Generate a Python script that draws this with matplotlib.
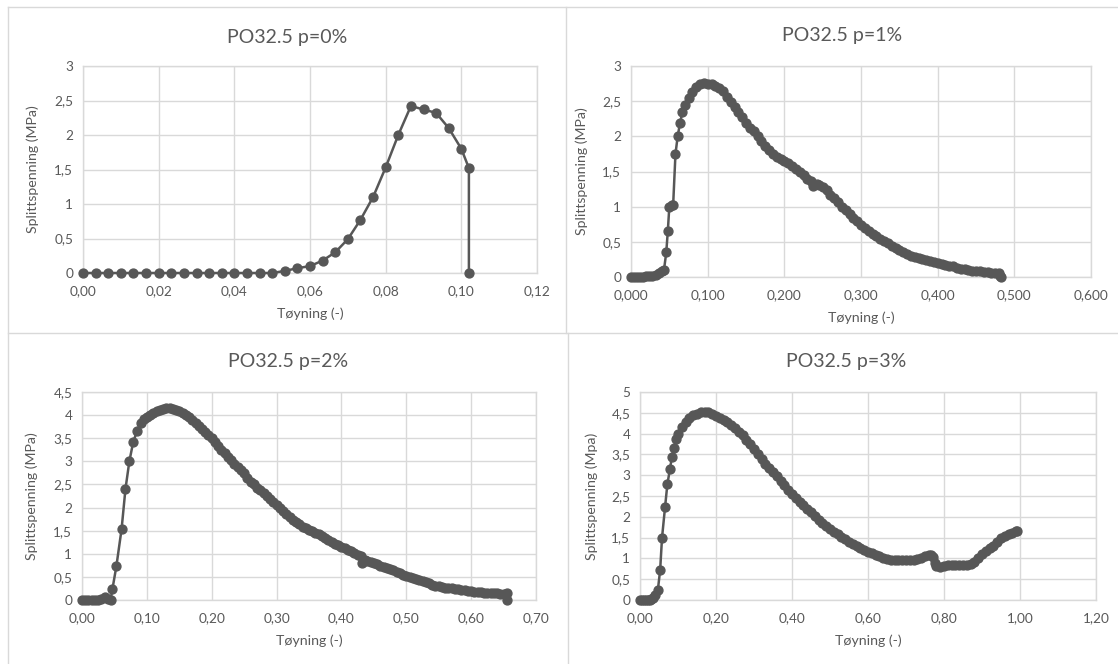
import matplotlib
matplotlib.use("Agg")
import matplotlib.pyplot as plt
from matplotlib.lines import Line2D
from matplotlib.ticker import FuncFormatter, MultipleLocator

plt.rcParams['font.family'] = ['Lato', 'DejaVu Sans']

# p = 0 %
p0_x = [0.0, 0.00333, 0.00667, 0.010, 0.01333, 0.01667, 0.020, 0.02333, 0.02667, 0.030,
        0.03333, 0.03667, 0.040, 0.04333, 0.04667, 0.050, 0.05333, 0.05667, 0.060, 0.06333,
        0.06667, 0.070, 0.07333, 0.07667, 0.080, 0.08333, 0.08667, 0.090, 0.09333, 0.09667,
        0.100, 0.102, 0.102]
p0_y = [0, 0, 0, 0, 0, 0, 0, 0, 0, 0,
        0, 0, 0, 0, 0, 0, 0.03, 0.07, 0.10, 0.18,
        0.30, 0.49, 0.77, 1.10, 1.53, 2.00, 2.42, 2.37, 2.32, 2.10,
        1.80, 1.52, 0]

# p = 1 %
p1_x = [0.000, 0.004, 0.008, 0.012, 0.016, 0.020, 0.024, 0.028, 0.032, 0.036,
        0.040, 0.043, 0.046, 0.048, 0.050, 0.053, 0.055, 0.058, 0.061, 0.064, 0.067,
        0.070, 0.075, 0.080, 0.085, 0.090, 0.095, 0.100, 0.105, 0.110, 0.115,
        0.120, 0.125, 0.130, 0.135, 0.140, 0.145, 0.150, 0.155, 0.160, 0.165,
        0.170, 0.175, 0.180, 0.185, 0.190, 0.195, 0.200, 0.205, 0.210, 0.215,
        0.220, 0.225, 0.230, 0.235, 0.238, 0.242, 0.245, 0.250, 0.255, 0.260,
        0.265, 0.270, 0.275, 0.280, 0.285, 0.290, 0.295, 0.300, 0.305, 0.310,
        0.315, 0.320, 0.325, 0.330, 0.335, 0.340, 0.345, 0.350, 0.355, 0.360,
        0.365, 0.370, 0.375, 0.380, 0.385, 0.390, 0.395, 0.400, 0.405, 0.410,
        0.415, 0.420, 0.425, 0.430, 0.435, 0.440, 0.445, 0.450, 0.455, 0.460,
        0.465, 0.470, 0.475, 0.480, 0.481, 0.482]
p1_y = [0.00, 0.00, 0.00, 0.00, 0.00, 0.01, 0.01, 0.02, 0.03, 0.05,
        0.08, 0.10, 0.35, 0.65, 1.00, 1.02, 1.03, 1.75, 2.01, 2.19, 2.34,
        2.44, 2.54, 2.63, 2.70, 2.74, 2.76, 2.75, 2.74, 2.72, 2.69,
        2.64, 2.56, 2.49, 2.42, 2.35, 2.27, 2.19, 2.12, 2.07, 2.01,
        1.93, 1.86, 1.80, 1.75, 1.71, 1.68, 1.65, 1.62, 1.58, 1.54,
        1.49, 1.45, 1.40, 1.36, 1.30, 1.32, 1.31, 1.28, 1.23, 1.17,
        1.12, 1.06, 1.00, 0.95, 0.89, 0.84, 0.79, 0.74, 0.70, 0.65,
        0.61, 0.58, 0.54, 0.51, 0.48, 0.44, 0.41, 0.38, 0.35, 0.33,
        0.30, 0.28, 0.27, 0.25, 0.24, 0.23, 0.21, 0.20, 0.19, 0.17,
        0.16, 0.15, 0.13, 0.12, 0.11, 0.10, 0.09, 0.08, 0.08, 0.07,
        0.07, 0.06, 0.06, 0.05, 0.02, 0.00]

# p = 2 %
p2_x = [0.000, 0.005, 0.010, 0.015, 0.020, 0.025, 0.030, 0.035, 0.040, 0.044,
        0.047, 0.053, 0.061, 0.067, 0.073, 0.079, 0.085, 0.091, 0.096,
        0.100, 0.105, 0.110, 0.115, 0.120, 0.125, 0.130, 0.135, 0.140, 0.145,
        0.150, 0.155, 0.160, 0.165, 0.170, 0.175, 0.180, 0.185, 0.190, 0.195,
        0.200, 0.205, 0.210, 0.215, 0.220, 0.225, 0.230, 0.235, 0.240, 0.245,
        0.250, 0.255, 0.260, 0.265, 0.270, 0.275, 0.280, 0.285, 0.290, 0.295,
        0.300, 0.305, 0.310, 0.315, 0.320, 0.325, 0.330, 0.335, 0.340, 0.345,
        0.350, 0.355, 0.360, 0.365, 0.370, 0.375, 0.380, 0.385, 0.390, 0.395,
        0.400, 0.405, 0.410, 0.415, 0.420, 0.425, 0.430, 0.432, 0.436, 0.440,
        0.445, 0.450, 0.455, 0.460, 0.465, 0.470, 0.475, 0.480, 0.485, 0.490,
        0.495, 0.500, 0.505, 0.510, 0.515, 0.520, 0.525, 0.530, 0.535, 0.540,
        0.545, 0.550, 0.555, 0.560, 0.565, 0.570, 0.575, 0.580, 0.585, 0.590,
        0.595, 0.600, 0.605, 0.610, 0.615, 0.620, 0.625, 0.630, 0.635, 0.640,
        0.645, 0.650, 0.655, 0.656]
p2_y = [0.00, 0.00, 0.00, 0.00, 0.00, 0.00, 0.02, 0.07, 0.03, 0.00,
        0.24, 0.73, 1.53, 2.40, 3.00, 3.42, 3.66, 3.83, 3.92,
        3.96, 4.01, 4.05, 4.09, 4.12, 4.14, 4.15, 4.15, 4.14, 4.12,
        4.09, 4.05, 4.00, 3.96, 3.90, 3.84, 3.77, 3.71, 3.64, 3.57,
        3.50, 3.42, 3.34, 3.25, 3.17, 3.10, 3.02, 2.95, 2.88, 2.81,
        2.74, 2.65, 2.56, 2.50, 2.43, 2.37, 2.31, 2.25, 2.19, 2.12,
        2.06, 1.99, 1.92, 1.86, 1.80, 1.74, 1.69, 1.64, 1.59, 1.55,
        1.52, 1.49, 1.46, 1.43, 1.39, 1.34, 1.30, 1.26, 1.22, 1.19,
        1.15, 1.12, 1.09, 1.06, 1.02, 0.98, 0.95, 0.80, 0.86, 0.85,
        0.83, 0.80, 0.77, 0.74, 0.71, 0.69, 0.67, 0.64, 0.61, 0.58,
        0.55, 0.53, 0.50, 0.48, 0.45, 0.43, 0.41, 0.38, 0.36, 0.33,
        0.31, 0.30, 0.29, 0.27, 0.26, 0.25, 0.24, 0.23, 0.22, 0.21,
        0.20, 0.19, 0.18, 0.17, 0.17, 0.16, 0.16, 0.15, 0.15, 0.15,
        0.14, 0.14, 0.15, 0.00]

# p = 3 %
p3_x = [0.000, 0.005, 0.010, 0.015, 0.020, 0.025, 0.030, 0.035, 0.040, 0.047,
        0.053, 0.058, 0.066, 0.072, 0.079, 0.084, 0.090, 0.095,
        0.10, 0.11, 0.12, 0.13, 0.14, 0.15, 0.16, 0.17, 0.18, 0.19,
        0.20, 0.21, 0.22, 0.23, 0.24, 0.25, 0.26, 0.27, 0.28, 0.29,
        0.30, 0.31, 0.32, 0.33, 0.34, 0.35, 0.36, 0.37, 0.38, 0.39,
        0.40, 0.41, 0.42, 0.43, 0.44, 0.45, 0.46, 0.47, 0.48, 0.49,
        0.50, 0.51, 0.52, 0.53, 0.54, 0.55, 0.56, 0.57, 0.58, 0.59,
        0.60, 0.61, 0.62, 0.63, 0.64, 0.65, 0.66, 0.67, 0.68, 0.69,
        0.70, 0.71, 0.72, 0.73, 0.74, 0.75, 0.76, 0.765, 0.77, 0.775,
        0.78, 0.79, 0.80, 0.81, 0.82, 0.83, 0.84, 0.85, 0.86, 0.87,
        0.88, 0.89, 0.90, 0.91, 0.92, 0.93, 0.94, 0.95, 0.96, 0.97,
        0.98, 0.99, 0.993]
p3_y = [0.00, 0.00, 0.00, 0.00, 0.00, 0.01, 0.03, 0.06, 0.12, 0.24,
        0.72, 1.50, 2.24, 2.78, 3.16, 3.44, 3.66, 3.86,
        4.00, 4.15, 4.27, 4.37, 4.44, 4.48, 4.51, 4.52, 4.51, 4.47,
        4.42, 4.37, 4.33, 4.27, 4.20, 4.13, 4.05, 3.96, 3.85, 3.75,
        3.63, 3.51, 3.40, 3.28, 3.17, 3.07, 2.97, 2.87, 2.76, 2.65,
        2.54, 2.45, 2.36, 2.28, 2.19, 2.11, 2.02, 1.93, 1.85, 1.78,
        1.71, 1.64, 1.58, 1.52, 1.46, 1.40, 1.35, 1.30, 1.25, 1.20,
        1.16, 1.12, 1.08, 1.05, 1.01, 0.98, 0.96, 0.96, 0.96, 0.96,
        0.96, 0.95, 0.96, 0.98, 1.01, 1.05, 1.08, 1.08, 1.03, 0.88,
        0.82, 0.80, 0.82, 0.84, 0.84, 0.84, 0.84, 0.84, 0.85, 0.87,
        0.92, 1.02, 1.10, 1.18, 1.26, 1.30, 1.40, 1.48, 1.54, 1.58,
        1.62, 1.65, 1.66]

titles = ["PO32.5 p=0%", "PO32.5 p=1%", "PO32.5 p=2%", "PO32.5 p=3%"]
ylabels = ["Splittspenning (MPa)", "Splittspenning (MPa)",
           "Splittspenning (MPa)", "Splittspenning (Mpa)"]
xlabel = "Tøyning (-)"

W, H = 1118, 664
text_col = "#595959"
grid_col = "#d9d9d9"
mark_col = "#575757"

fig = plt.figure(figsize=(W / 100, H / 100), dpi=100)
fig.patch.set_facecolor("white")


def px_rect(x0, y0, x1, y1):
    # pixel box (top-left origin) -> figure fraction rect
    return [x0 / W, 1 - y1 / H, (x1 - x0) / W, (y1 - y0) / H]


def comma_fmt(decimals):
    if decimals is None:
        return FuncFormatter(lambda v, p: ("%g" % round(v, 4)).replace(".", ","))
    return FuncFormatter(lambda v, p: ("%.*f" % (decimals, v)).replace(".", ","))


panels = [
    dict(x=p0_x, y=p0_y, rect=(83, 66, 537, 273), xlim=0.12, xstep=0.02, xdec=2,
         ylim=3, ystep=0.5, title_xy=(287, 37), ylab_x=39),
    dict(x=p1_x, y=p1_y, rect=(631, 66, 1091, 277), xlim=0.6, xstep=0.1, xdec=3,
         ylim=3, ystep=0.5, title_xy=(842, 35), ylab_x=588),
    dict(x=p2_x, y=p2_y, rect=(82, 392, 536, 600), xlim=0.7, xstep=0.1, xdec=2,
         ylim=4.5, ystep=0.5, title_xy=(288, 362), ylab_x=38),
    dict(x=p3_x, y=p3_y, rect=(640, 392, 1096, 600), xlim=1.2, xstep=0.2, xdec=2,
         ylim=5, ystep=0.5, title_xy=(846, 362), ylab_x=598),
]

for i, p in enumerate(panels):
    x0, y0, x1, y1 = p["rect"]
    ax = fig.add_axes(px_rect(x0, y0, x1, y1))
    ax.plot(p["x"], p["y"], color=mark_col, lw=1.8, marker="o", ms=6.4,
            mec=mark_col, mfc=mark_col, clip_on=False, zorder=3)
    ax.set_xlim(0, p["xlim"])
    ax.set_ylim(0, p["ylim"])
    ax.xaxis.set_major_locator(MultipleLocator(p["xstep"]))
    ax.yaxis.set_major_locator(MultipleLocator(p["ystep"]))
    ax.xaxis.set_major_formatter(comma_fmt(p["xdec"]))
    ax.yaxis.set_major_formatter(comma_fmt(None))
    ax.grid(True, color=grid_col, lw=1.0)
    ax.set_axisbelow(True)
    for s in ax.spines.values():
        s.set_color(grid_col)
        s.set_linewidth(1.0)
    ax.tick_params(length=0, labelsize=9.8, labelcolor=text_col)
    ax.tick_params(axis="x", pad=9)
    ax.tick_params(axis="y", pad=7)
    ax.set_xlabel(xlabel, fontsize=10.2, color=text_col, labelpad=7)
    ax.set_ylabel(ylabels[i], fontsize=10.2, color=text_col)
    ax.yaxis.set_label_coords((p["ylab_x"] - x0) / (x1 - x0), 0.5)
    tx, ty = p["title_xy"]
    fig.text(tx / W, 1 - ty / H, titles[i], ha="center", va="center",
             fontsize=14, color=text_col)

# thin frames around the four chart areas
frame = dict(color=grid_col, lw=1.0, transform=fig.transFigure)
lines = [((8, 1118), (7, 7)), ((8, 8), (7, 664)), ((8, 1118), (333, 333)),
         ((566, 566), (7, 333)), ((568, 568), (333, 664))]
for xs, ys in lines:
    fig.add_artist(Line2D([v / W for v in xs], [1 - v / H for v in ys], **frame))

fig.savefig("out.png", dpi=100)
